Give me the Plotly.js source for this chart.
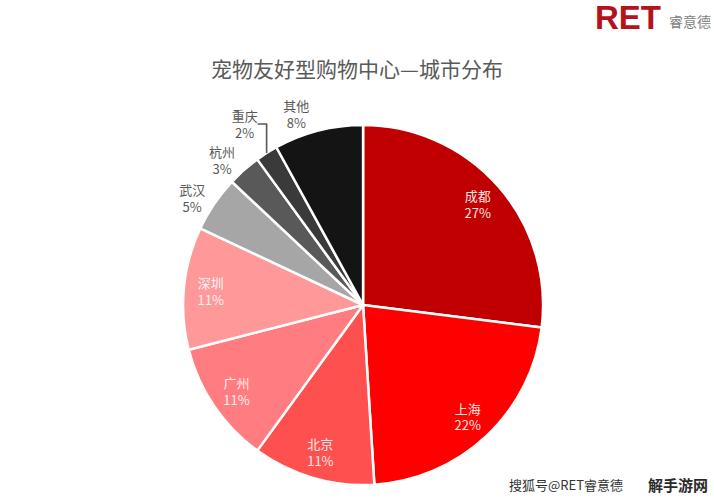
<!DOCTYPE html>
<html>
<head>
<meta charset="utf-8">
<script src="https://cdn.plot.ly/plotly-3.0.1.min.js"></script>
<style>
html,body{margin:0;padding:0;background:#fff;}
#chart{width:714px;height:500px;}
</style>
</head>
<body>
<div id="chart"></div>
<script>
const cities = ["成都","上海","北京","广州","深圳","武汉","杭州","重庆","其他"];
const shares = [27, 22, 11, 11, 11, 5, 3, 2, 8];
const colors = ["#C00000","#FF0000","#FF5050","#FF7C80","#FF9999","#A6A6A6","#595959","#3A3A3A","#141414"];
// labels drawn by the slice layer (outside, with leader lines when displaced)
const posA = ["none","none","none","none","none","outside","outside","outside","none"];
// labels drawn by the transparent label ring
const posB = ["inside","inside","inside","inside","inside","none","none","none","outside"];
const insideColors = ["#FFE3E3","#FFE3E3","#FFE8E8","#FFF0F0","#FFF5F5","#595959","#595959","#595959","#595959"];

const FONT = "Noto Sans CJK SC, sans-serif";
const dom = {x: [0.2, 0.817], y: [0.03, 0.75]};

const slices = {
  type: "pie",
  labels: cities,
  values: shares,
  sort: false,
  direction: "clockwise",
  rotation: 0,
  marker: {colors: colors, line: {color: "#FFFFFF", width: 2.5}},
  texttemplate: "%{label}<br>%{value}%",
  textposition: posA,
  textfont: {family: FONT, size: 13, color: "#595959"},
  outsidetextfont: {family: FONT, size: 13, color: "#595959"},
  showlegend: false,
  hoverinfo: "label+percent",
  domain: dom
};

const labelRing = {
  type: "pie",
  labels: cities,
  values: shares,
  sort: false,
  direction: "clockwise",
  rotation: 0,
  hole: 0.7,
  marker: {colors: cities.map(() => "rgba(0,0,0,0)"), line: {width: 0}},
  texttemplate: "%{label}<br>%{value}%",
  textposition: posB,
  insidetextorientation: "horizontal",
  textfont: {family: FONT, size: 13, color: insideColors},
  outsidetextfont: {family: FONT, size: 13, color: "#595959"},
  showlegend: false,
  hoverinfo: "skip",
  domain: dom
};

const layout = {
  width: 714, height: 500,
  paper_bgcolor: "#FFFFFF",
  margin: {l: 0, r: 0, t: 0, b: 0},
  title: {text: "宠物友好型购物中心—城市分布", font: {family: FONT, size: 21, color: "#595959"}, x: 0.5, xanchor: "center", y: 0.86, yanchor: "middle"},
  annotations: [
    {text: "<b>RET</b>", x: 0.928, y: 0.965, xref: "paper", yref: "paper", xanchor: "right", yanchor: "middle", showarrow: false, font: {family: "Liberation Sans, Arial, sans-serif", size: 33, color: "#B5121B"}},
    {text: "睿意德", x: 0.934, y: 0.958, xref: "paper", yref: "paper", xanchor: "left", yanchor: "middle", showarrow: false, font: {family: FONT, size: 14, color: "#7F7F7F"}},
    {text: "搜狐号@RET睿意德", x: 0.875, y: 0.032, xref: "paper", yref: "paper", xanchor: "right", yanchor: "middle", showarrow: false, font: {family: FONT, size: 13, color: "#333333"}},
    {text: "<b>解手游网</b>", x: 0.995, y: 0.032, xref: "paper", yref: "paper", xanchor: "right", yanchor: "middle", showarrow: false, font: {family: FONT, size: 15, color: "#2A2A2A"}}
  ]
};

Plotly.newPlot("chart", [slices, labelRing], layout, {displayModeBar: false, staticPlot: true});
</script>
</body>
</html>
